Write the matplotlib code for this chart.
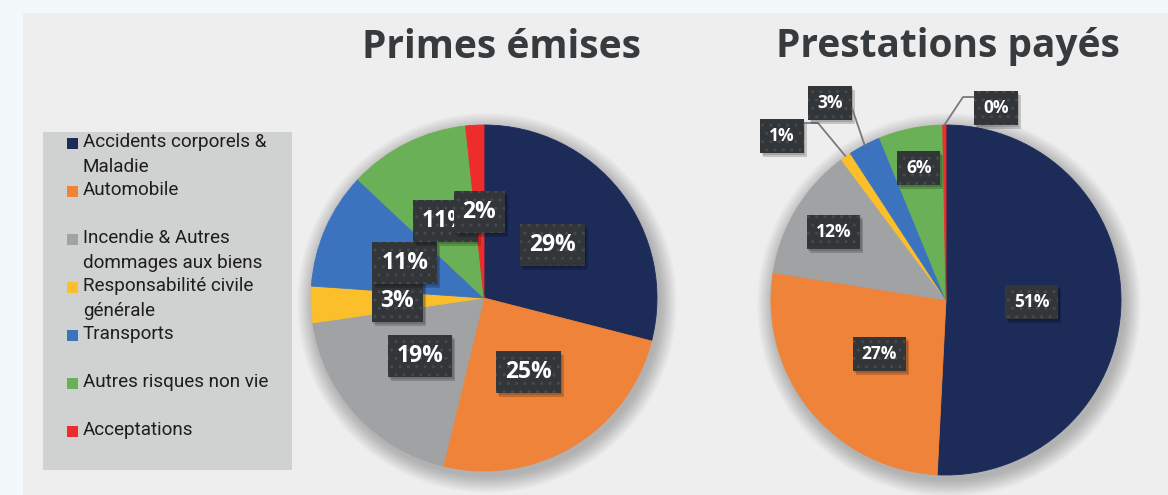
import matplotlib
matplotlib.use("Agg")
import matplotlib.pyplot as plt
from matplotlib.patches import Rectangle, Circle
import numpy as np

# ---------------- data ----------------
categories = [
    "Accidents corporels &\nMaladie",
    "Automobile",
    "Incendie & Autres\ndommages aux biens",
    "Responsabilité civile\ngénérale",
    "Transports",
    "Autres risques non vie",
    "Acceptations",
]
colors = ["#1c2b58", "#f0833a", "#a0a2a3", "#fbbf2b", "#3c73be", "#6ab056", "#ee2c2c"]
primes = [29.0, 24.8, 18.9, 3.4, 10.9, 11.3, 1.7]
prestations = [50.8, 26.7, 12.3, 1.0, 3.0, 5.9, 0.3]
titles = ["Primes émises", "Prestations payés"]

# ---------------- layout ----------------
W, H = 1168, 495
fig = plt.figure(figsize=(W / 100, H / 100), dpi=100)
fig.patch.set_facecolor("#f3f8fb")
ax = fig.add_axes([0, 0, 1, 1])

TITLE_FONT = ["Open Sans", "DejaVu Sans"]
LEG_FONT = ["Roboto", "DejaVu Sans"]

renderer = fig.canvas.get_renderer()


def draw_pie(values, center, R, label_r, outside, fs, box_h, zbase):
    cx, cy = center
    # soft shadow
    for i in range(16):
        ax.add_patch(Circle((cx + 3, cy - 5), R + 0.5 + i * 1.1, fc="black",
                            alpha=0.016, lw=0, zorder=0.5))
    wedges, _ = ax.pie(values, colors=colors, startangle=90, counterclock=False,
                       center=center, radius=R,
                       wedgeprops=dict(linewidth=0.6, zorder=1))
    for w, c in zip(wedges, colors):
        w.set_edgecolor(c)
    for i, (w, v) in enumerate(zip(wedges, values)):
        ang = np.deg2rad((w.theta1 + w.theta2) / 2)
        z = zbase + 3 * i
        if i in outside:
            x, y = outside[i]["box"]
        else:
            x = cx + label_r[i] * R * np.cos(ang)
            y = cy + label_r[i] * R * np.sin(ang)
        t = ax.text(x, y, f"{round(v):d}%", ha="center", va="center",
                    fontsize=fs, fontweight="bold", color="white",
                    family=TITLE_FONT, zorder=z + 2)
        ext = t.get_window_extent(renderer)
        bw = ext.width + 18
        # shadow
        ax.add_patch(Rectangle((x - bw / 2 + 3, y - box_h / 2 - 4), bw, box_h,
                               fc="black", alpha=0.18, lw=0, zorder=z))
        ax.add_patch(Rectangle((x - bw / 2 + 1.5, y - box_h / 2 - 2), bw, box_h,
                               fc="black", alpha=0.15, lw=0, zorder=z))
        ax.add_patch(Rectangle((x - bw / 2, y - box_h / 2), bw, box_h,
                               fc="#333639", ec="#46494d", lw=0, hatch="..",
                               zorder=z + 1))
        if i in outside:
            ex = cx + R * np.cos(ang)
            ey = cy + R * np.sin(ang)
            elx, ely = outside[i]["elbow"]
            side = x + bw / 2 if elx > x else x - bw / 2
            ax.plot([ex, elx, side], [ey, ely, ely], color="#7a7a7a", lw=1.3,
                    zorder=z + 1, solid_capstyle="butt")


# background panel
ax.add_patch(Rectangle((23, 0), W - 23, H - 13, fc="#eeeeee", lw=0, zorder=0))

# left pie
draw_pie(primes, (484, H - 298), 173, [0.5] * 7, {}, 16.5, 42, 10)
# right pie
outside_right = {
    3: dict(box=(782, H - 136), elbow=(818, H - 123)),
    4: dict(box=(830, H - 103), elbow=(852, H - 108)),
    6: dict(box=(996, H - 108), elbow=(963, H - 97)),
}
draw_pie(prestations, (946, H - 300), 175, [0.49, 0.49, 0.75, None, None, 0.77, None],
         outside_right, 12.5, 34, 40)

# titles
ax.text(502, H - 47, titles[0], ha="center", va="center", fontsize=28,
        fontweight="bold", family=TITLE_FONT, color="#383b3e", zorder=5)
ax.text(948, H - 47, titles[1], ha="center", va="center", fontsize=28,
        fontweight="bold", family=TITLE_FONT, color="#383b3e", zorder=5)

# legend
ax.add_patch(Rectangle((43, H - 470), 249, 338, fc="#d0d1d1", lw=0, zorder=2))
for k, (cat, col) in enumerate(zip(categories, colors)):
    y0 = H - (142 + 48 * k)
    ax.add_patch(Rectangle((67, y0 - 6.5), 11, 11, fc=col, lw=0, zorder=3))
    for j, line in enumerate(cat.split("\n")):
        ax.text(83, y0 - 25 * j, line, ha="left", va="center", fontsize=13.6,
                family=LEG_FONT, color="#1e1e1e", zorder=3)

ax.set_xlim(0, W)
ax.set_ylim(0, H)
ax.set_aspect("auto")
ax.axis("off")

fig.savefig("out.png", dpi=100, facecolor=fig.get_facecolor())
